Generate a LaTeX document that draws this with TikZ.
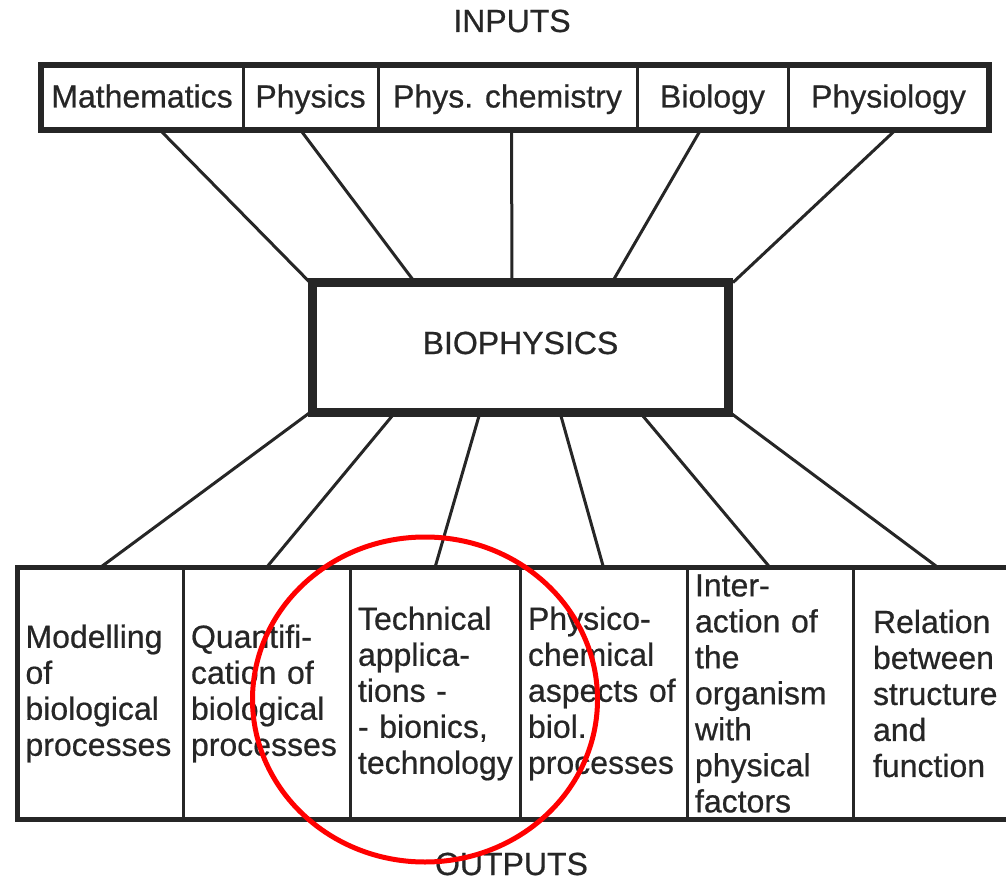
\documentclass[tikz,border=0pt]{standalone}
\usepackage{fontspec}
\setmainfont{Liberation Sans}[FakeBold=0.6]
\usetikzlibrary{positioning}

\definecolor{ink}{gray}{0.15}
\hyphenpenalty=10000
\lefthyphenmin=64

\tikzset{
	txt/.style={font=\fontsize{32}{36}\selectfont, text=ink},
	incell/.style={txt, draw=ink, line width=3pt, outer sep=0pt, inner sep=0pt,
		minimum height=65pt, minimum width=#1, text height=27pt, text depth=7pt},
	outcell/.style={txt, draw=ink, line width=3pt, outer sep=0pt, inner xsep=8pt,
		inner ysep=0pt, minimum height=252pt, text width=#1, align=left},
	frame/.style={draw=ink, line width=6pt},
	link/.style={draw=ink, line width=3pt},
}

\begin{document}
\begin{tikzpicture}
	[x=1pt,y=-1pt]
	\useasboundingbox (0,0) rectangle (1006,882);
	
	\node[txt, anchor=base] (inputs) at (512,32) {INPUTS};
	
	% inputs row
	\node[incell=202pt] (math) at (142,97.5) {Mathematics};
	\node[incell=135pt, right=0pt of math] (phys) {Physics};
	\node[incell=259pt, right=0pt of phys] (pchem) {Phys. chemistry};
	\node[incell=151pt, right=0pt of pchem] (bio) {Biology};
	\node[incell=201pt, right=0pt of bio] (physio) {Physiology};
	\draw[frame] (math.north west) rectangle (physio.south east);
	
	\node[draw=ink, line width=9pt, outer sep=0pt, minimum width=416pt, minimum height=130pt,
		txt, text height=23pt, text depth=10pt] (bph) at (520.5,347.5) {BIOPHYSICS};
	
	% outputs row
	\node[outcell=149.5pt] (o1) at (100.25,693.5) {Modelling\\ of\\ biological\\ processes};
	\node[outcell=151pt, right=0pt of o1] (o2) {Quantifi-\\ cation~of\\ biological\\ processes};
	\node[outcell=154pt, right=0pt of o2] (o3) {Technical\\ applica-\\ tions~-\\ -~bionics,\\ technology};
	\node[outcell=151pt, right=0pt of o3] (o4) {Physico-\\ chemical\\ aspects~of\\ biol.\\ processes};
	\node[outcell=150pt, right=0pt of o4] (o5) {Inter-\\ action~of\\ the\\ organism\\ with\\ physical\\ factors};
	\node[outcell=130pt, inner xsep=20pt, right=0pt of o5] (o6) {Relation\\ between\\ structure\\ and\\ function};
	\draw[frame, line width=5pt] (o1.north west) rectangle (o6.south east);
	
	\foreach \from/\dx/\dy in {math/18/-210.5, phys/-10/-105.5, pchem/4/-8.5, bio/-12/91.5, physio/7/212.5}
	\draw[link] ([xshift=\dx pt]\from.south) -- ([xshift=\dy pt]bph.north);
	
	\foreach \to/\dx in {o1/-210.5, o2/-125.5, o3/-40.5, o4/39.5, o5/119.5, o6/209.5}
	\draw[link] ([xshift=\dx pt]bph.south) -- (\to.north);
	
	\node[txt, anchor=base] (outputs) at (511.5,875) {OUTPUTS};
	
	\draw[red, line width=5pt] (425,699.5) ellipse [x radius=172.5, y radius=162.5];
\end{tikzpicture}
\end{document}
